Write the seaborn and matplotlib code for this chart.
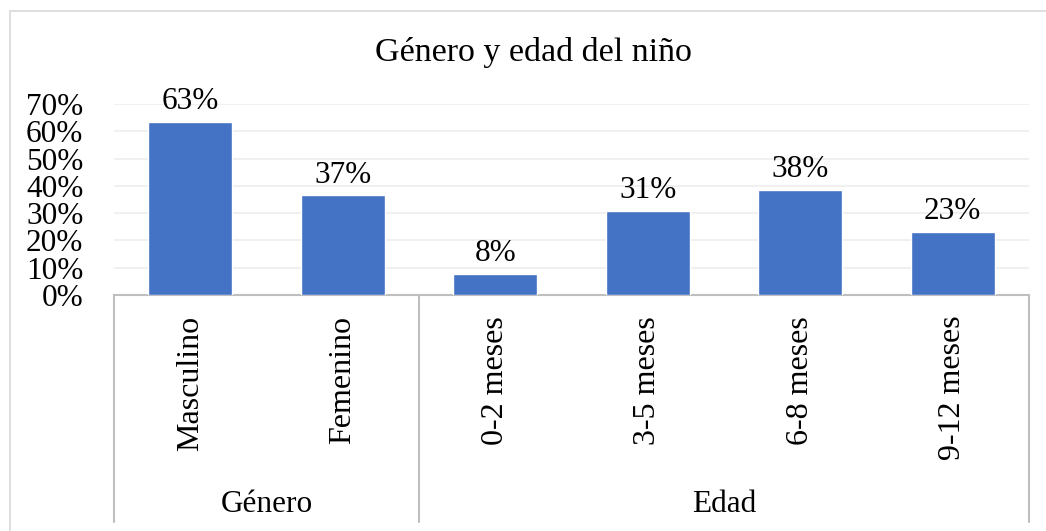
import numpy as np
import pandas as pd
import matplotlib
matplotlib.use('Agg')
from matplotlib import pyplot as plt
from matplotlib.lines import Line2D
import matplotlib.transforms as mtransforms
import seaborn as sns

sns.set_style('white')
plt.rcParams['font.family'] = ['Liberation Serif', 'DejaVu Serif']
plt.rcParams['text.color'] = 'black'
plt.rcParams['xtick.color'] = 'black'
plt.rcParams['ytick.color'] = 'black'

# data
categories = ['Masculino', 'Femenino', '0-2 meses', '3-5 meses', '6-8 meses', '9-12 meses']
values = [0.634, 0.366, 0.077, 0.308, 0.385, 0.231]
groups = ['Género', 'Edad']
group_sizes = [2, 4]
y_ticks = [0, 0.1, 0.2, 0.3, 0.4, 0.5, 0.6, 0.7]
title = 'Género y edad del niño'

df = pd.DataFrame({'cat': categories, 'val': values})

W, H = 1046, 531
fig = plt.figure(figsize=(W / 100, H / 100), dpi=100)
ax = fig.add_axes([114 / W, (H - 295) / H, (1029 - 114) / W, (295 - 104) / H])

sns.barplot(data=df, x='cat', y='val', color='#4472C4', width=0.55,
            saturation=1, ax=ax, zorder=3)

ax.set_xlim(-0.5, len(categories) - 0.5)
ax.set_ylim(0, 0.7)
ax.set_yticks(y_ticks)
ax.set_yticklabels([f'{t:.0%}' for t in y_ticks], fontsize=22.5)
ax.grid(axis='y', color='#EDEDED', lw=1.2, zorder=0)
ax.set_xlabel('')
ax.set_ylabel('')
for s in ['top', 'right', 'left']:
    ax.spines[s].set_visible(False)
ax.spines['bottom'].set_color('#BFBFBF')
ax.spines['bottom'].set_linewidth(1.5)
ax.tick_params(axis='y', length=0, pad=22)
ax.tick_params(axis='x', length=0, pad=15)
ax.set_xticks(range(len(categories)))
ax.set_xticklabels(categories, rotation=90, fontsize=23, va='top', ha='center')

ax.bar_label(ax.containers[0], labels=[f'{v:.0%}' for v in values],
             padding=4, fontsize=22.5)

# multi-level category axis boxes
trans = mtransforms.blended_transform_factory(ax.transData, ax.transAxes)
bounds = np.concatenate([[0], np.cumsum(group_sizes)]) - 0.5
for b in bounds:
    ax.plot([b, b], [0, -227 / 191], color='#BFBFBF', lw=1.5,
            transform=trans, clip_on=False)
for g, lo, hi in zip(groups, bounds[:-1], bounds[1:]):
    ax.text((lo + hi) / 2, -210 / 191, g, transform=trans, ha='center',
            va='center', fontsize=22.5)

fig.text(533 / W, 1 - 52 / H, title, ha='center', va='center', fontsize=24.5)

# chart area border
fig.add_artist(Line2D([10 / W, 10 / W], [0, 1 - 11 / H], color='#D9D9D9', lw=1.2))
fig.add_artist(Line2D([10 / W, 1], [1 - 11 / H, 1 - 11 / H], color='#D9D9D9', lw=1.2))

fig.savefig('out.png', dpi=100)
